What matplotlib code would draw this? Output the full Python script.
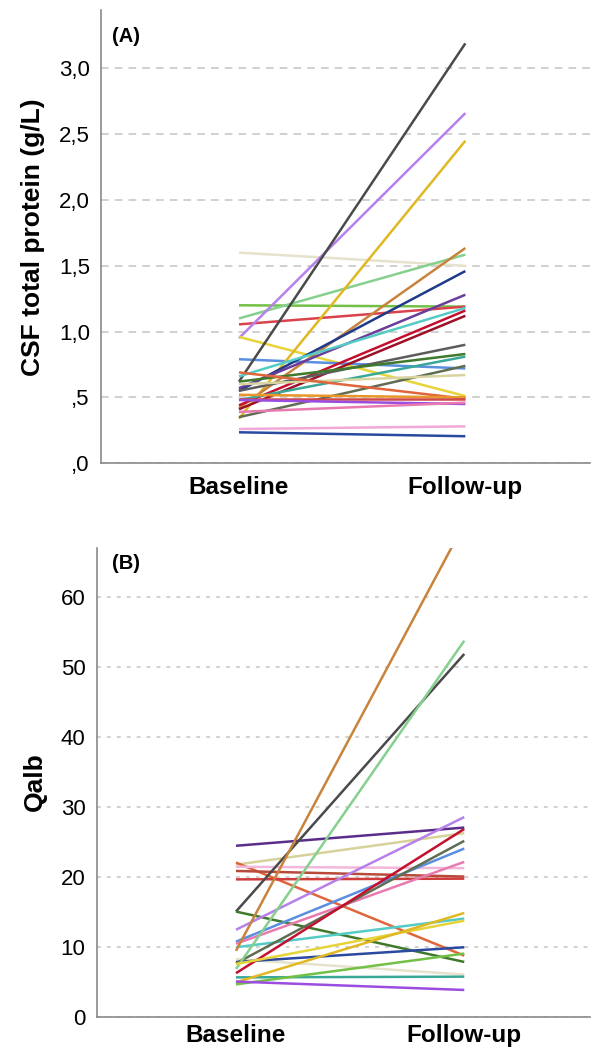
import matplotlib.pyplot as plt
import numpy as np

plt.rcParams['font.family'] = ['Liberation Sans', 'DejaVu Sans']

timepoints = ["Baseline", "Follow-up"]

# Panel A: CSF total protein (g/L), one line per patient
protein_base = [1.60, 1.20, 1.10, 1.055, 0.95, 0.96, 0.79, 0.62, 0.34, 0.42, 0.55, 0.57,
                0.66, 0.44, 0.41, 0.55, 0.62, 0.48, 0.35, 0.60, 0.69, 0.52, 0.49, 0.48,
                0.26, 0.235, 0.39]
protein_follow = [1.50, 1.19, 1.585, 1.19, 2.66, 0.51, 0.72, 3.19, 2.45, 1.635, 1.46, 1.28,
                  1.18, 1.16, 1.12, 0.90, 0.83, 0.81, 0.74, 0.67, 0.49, 0.50, 0.49, 0.45,
                  0.28, 0.205, 0.46]
protein_colors = ['#e6e2cc', '#72c045', '#86d08e', '#d8434c', '#b780ea', '#e6d43a', '#5a8fe0',
                  '#4a4a4a', '#e0b822', '#c8833c', '#1f3a8a', '#6a3d9a', '#55cbc6', '#c4102e',
                  '#9e1026', '#5c5c5c', '#3f7a2c', '#3aa898', '#5f6e52', '#d8d4a2', '#e0653a',
                  '#e8962a', '#d04848', '#9b4de0', '#f2a8d8', '#2a4aa0', '#e87ab0']

# Panel B: Qalb, one line per patient
qalb_base = [24.4, 21.7, 22.0, 21.4, 20.8, 19.6, 15.0, 15.0, 12.4, 10.7, 10.4, 9.9, 9.4,
             8.2, 7.8, 7.6, 6.8, 6.2, 5.6, 7.5, 4.9, 4.6, 5.0]
qalb_follow = [27.0, 26.2, 8.7, 21.2, 20.0, 19.7, 51.8, 7.8, 28.5, 24.0, 22.1, 14.0, 70.4,
               6.0, 9.9, 25.1, 53.7, 26.8, 5.7, 13.7, 14.8, 9.0, 3.8]
qalb_colors = ['#5b2d8a', '#d6d29a', '#e0653a', '#f2b8dc', '#b84a3a', '#d03c3c', '#4a4a4a',
               '#3f7a2c', '#b780ea', '#5a8fe0', '#e87ab0', '#55cbc6', '#c8833c', '#e6e2cc',
               '#2a4aa0', '#5f6e52', '#86d08e', '#c4102e', '#3aa898', '#e6d43a', '#e0b822',
               '#72c045', '#9b4de0']

fig = plt.figure(figsize=(5.97, 10.48), dpi=100)
ax1 = fig.add_axes([0.169, 0.558, 0.819, 0.432])
ax2 = fig.add_axes([0.162, 0.030, 0.826, 0.4475])

x = np.arange(len(timepoints))

for b, f, c in zip(protein_base, protein_follow, protein_colors):
    ax1.plot(x, [b, f], color=c, lw=1.8, solid_capstyle='butt')
for b, f, c in zip(qalb_base, qalb_follow, qalb_colors):
    ax2.plot(x, [b, f], color=c, lw=1.8, solid_capstyle='butt')

# axes styling
for ax in (ax1, ax2):
    ax.set_xlim(-0.61, 1.55)
    ax.set_xticks(x)
    ax.set_xticklabels(timepoints, fontsize=17.5, fontweight='bold')
    ax.tick_params(axis='y', length=0, labelsize=16, pad=8)
    for s in ('top', 'right'):
        ax.spines[s].set_visible(False)
    for s in ('left', 'bottom'):
        ax.spines[s].set_color('#8a8a8a')
        ax.spines[s].set_linewidth(1.2)
    ax.set_axisbelow(True)
ax1.tick_params(axis='x', length=0, pad=9)
ax2.tick_params(axis='x', length=0, pad=5)

ax1.set_ylim(0, 3.44)
yt1 = [0, 0.5, 1.0, 1.5, 2.0, 2.5, 3.0]
ax1.set_yticks(yt1)
ax1.set_yticklabels([',0', ',5', '1,0', '1,5', '2,0', '2,5', '3,0'])
ax1.grid(axis='y', color='#c4c4c4', ls=(0, (5, 4)), lw=1.1)
ax1.set_ylabel('CSF total protein (g/L)', fontsize=19, fontweight='bold', labelpad=10)
ax1.text(0.022, 0.942, '(A)', transform=ax1.transAxes, fontsize=14.5, fontweight='bold',
         va='center')

ax2.set_ylim(0, 67)
ax2.set_yticks([0, 10, 20, 30, 40, 50, 60])
ax2.grid(axis='y', color='#c4c4c4', ls=(0, (2.5, 4)), lw=1.1)
ax2.set_ylabel('Qalb', fontsize=19, fontweight='bold', labelpad=10)
ax2.text(0.03, 0.965, '(B)', transform=ax2.transAxes, fontsize=14.5, fontweight='bold',
         va='center')

fig.savefig('out.png', dpi=100)
